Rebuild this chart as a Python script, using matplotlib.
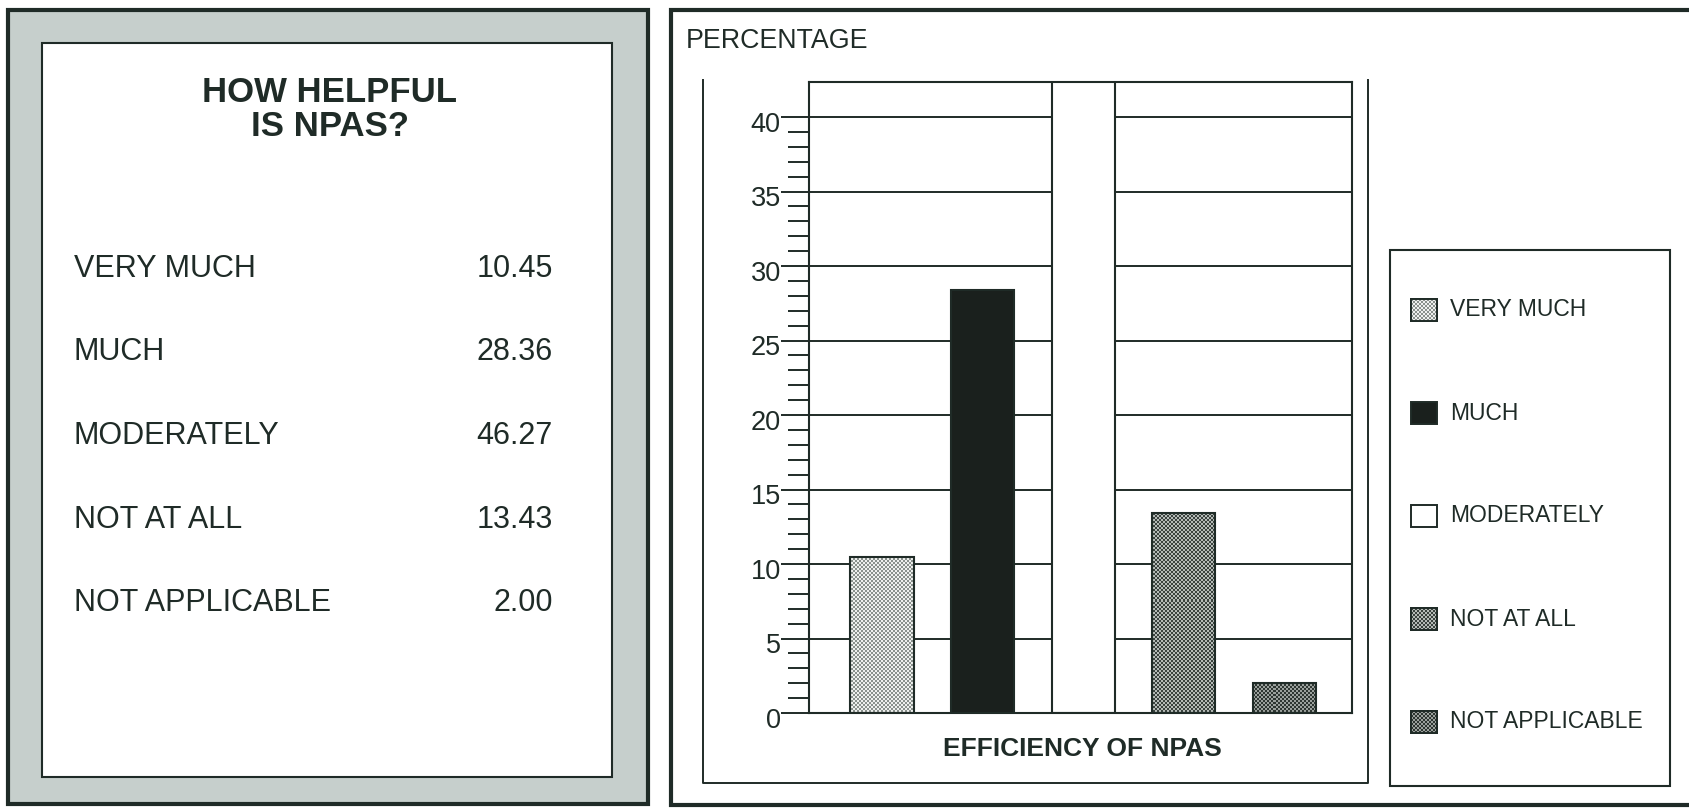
import numpy as np
import matplotlib
matplotlib.use("Agg")
import matplotlib.pyplot as plt
from matplotlib.patches import Rectangle
from matplotlib.ticker import FixedLocator
from matplotlib.transforms import ScaledTranslation

plt.rcParams['font.family'] = ['Liberation Sans', 'DejaVu Sans']

# ---- data -------------------------------------------------------------
categories = ['VERY MUCH', 'MUCH', 'MODERATELY', 'NOT AT ALL', 'NOT APPLICABLE']
values = [10.45, 28.36, 46.27, 13.43, 2.00]
major_ticks = [0, 5, 10, 15, 20, 25, 30, 35, 40]
minor_ticks = [v for v in range(0, 41) if v % 5 != 0]
title_lines = ['HOW HELPFUL', 'IS NPAS?']
x_title = 'EFFICIENCY OF NPAS'
y_title = 'PERCENTAGE'

# ---- styling ----------------------------------------------------------
INK = '#1f2b27'
PANEL_GREY = '#c6cfcc'
# (light, dark) pairs for the stippled fills; plain strings are flat colours
fills = [
    ('#eef0ee', '#8a918d'),
    '#1a201d',
    '#ffffff',
    ('#b4bab6', '#3a423e'),
    ('#9aa09c', '#2e3632'),
]

W, H, DPI = 1689, 808, 100
fig = plt.figure(figsize=(W / DPI, H / DPI), dpi=DPI, facecolor='white')


def stipple(h, w, light, dark, cell=2):
    yy, xx = np.mgrid[0:h, 0:w]
    mask = ((xx // cell) + (yy // cell)) % 2 == 0
    img = np.empty((h, w, 3))
    img[mask] = matplotlib.colors.to_rgb(dark)
    img[~mask] = matplotlib.colors.to_rgb(light)
    return img


def mean_colour(f):
    if isinstance(f, tuple):
        a = np.array(matplotlib.colors.to_rgb(f[0]))
        b = np.array(matplotlib.colors.to_rgb(f[1]))
        return tuple((a + b) / 2)
    return f


# ---- background layer in pixel coordinates ----------------------------
bg = fig.add_axes([0, 0, 1, 1], zorder=0)
bg.set_xlim(0, W)
bg.set_ylim(H, 0)
bg.axis('off')

# left table panel
bg.add_patch(Rectangle((8, 10), 640, 794, facecolor=PANEL_GREY,
                       edgecolor=INK, lw=3.0, joinstyle='miter'))
bg.add_patch(Rectangle((42, 43), 570, 734, facecolor='white',
                       edgecolor=INK, lw=1.5, joinstyle='miter'))
for i, line in enumerate(title_lines):
    bg.text(330, 92 + 35 * i, line, ha='center', va='center',
            fontsize=25, fontweight='bold', color=INK)
for i, (cat, val) in enumerate(zip(categories, values)):
    y = 269 + 83.5 * i
    bg.text(74, y, cat, ha='left', va='center', fontsize=22, color=INK)
    bg.text(553, y, f'{val:.2f}', ha='right', va='center', fontsize=22,
            color=INK)

# right chart panel frame (open on the right)
bg.plot([W + 5, 671, 671, W + 5], [10, 10, 805, 805], color=INK, lw=3.0,
        solid_joinstyle='miter')
bg.plot([703, 703, 1368, 1368], [80, 783, 783, 80], color=INK, lw=1.4)
bg.text(686, 41, y_title, ha='left', va='center', fontsize=19.3, color=INK)

# legend box
bg.add_patch(Rectangle((1390, 250), 280, 536, facecolor='white',
                       edgecolor=INK, lw=1.5))
for i, (cat, f) in enumerate(zip(categories, fills)):
    yc = 310 + 103 * i
    sx, sw, sh = 1411, 26, 22
    sy = yc - sh / 2
    sw_patch = Rectangle((sx, sy), sw, sh, facecolor=mean_colour(f),
                         edgecolor=INK, lw=1.4, zorder=2)
    bg.add_patch(sw_patch)
    if isinstance(f, tuple):
        im = bg.imshow(stipple(sh, sw, *f), extent=(sx, sx + sw, sy + sh, sy),
                       interpolation='nearest', aspect='auto', zorder=2.5)
        im.set_clip_path(sw_patch)
        bg.add_patch(Rectangle((sx, sy), sw, sh, fill=False,
                               edgecolor=INK, lw=1.4, zorder=3))
    bg.text(1450, yc, cat, ha='left', va='center', fontsize=16.5, color=INK)
bg.set_xlim(0, W)
bg.set_ylim(H, 0)

# ---- bar chart --------------------------------------------------------
ax_left, ax_right, ax_top, ax_bottom = 809, 1352, 82, 713
ax = fig.add_axes([ax_left / W, (H - ax_bottom) / H,
                   (ax_right - ax_left) / W, (ax_bottom - ax_top) / H],
                  zorder=1)
ax.set_facecolor('white')

x = np.arange(len(categories))
xlim = (-0.726, 4.672)
ylim = (0, 42.35)
bar_w = 0.63

bars = ax.bar(x, values, width=bar_w, color=[mean_colour(f) for f in fills],
              edgecolor='none', zorder=2)
ph, pw = ax_bottom - ax_top, ax_right - ax_left
for patch, f in zip(bars.patches, fills):
    if isinstance(f, tuple):
        im = ax.imshow(stipple(ph, pw, *f),
                       extent=(xlim[0], xlim[1], ylim[0], ylim[1]),
                       origin='upper', interpolation='nearest',
                       aspect='auto', zorder=2.5)
        im.set_clip_path(patch)
ax.bar(x, values, width=bar_w, fill=False, edgecolor=INK, lw=1.5, zorder=3)

ax.set_xlim(*xlim)
ax.set_ylim(*ylim)

ax.set_xticks([])
ax.yaxis.set_major_locator(FixedLocator(major_ticks))
ax.yaxis.set_minor_locator(FixedLocator(minor_ticks))
ax.set_yticklabels([str(t) for t in major_ticks])
ax.tick_params(axis='y', which='major', direction='out', length=20,
               width=1.4, color=INK, labelsize=19.5, labelcolor=INK, pad=0.3)
ax.tick_params(axis='y', which='minor', direction='out', length=15,
               width=1.4, color=INK)
shift = ScaledTranslation(0, -3.5 / 72, fig.dpi_scale_trans)
for lab in ax.get_yticklabels():
    lab.set_transform(lab.get_transform() + shift)

ax.yaxis.grid(True, which='major', color=INK, lw=1.4)
ax.set_axisbelow(True)
for sp in ax.spines.values():
    sp.set_color(INK)
    sp.set_linewidth(1.5)

ax.set_xlabel(x_title, fontsize=19, fontweight='bold', color=INK,
              va='center')
ax.xaxis.set_label_coords((1082 - ax_left) / pw, (ax_bottom - 749) / ph)

fig.savefig('out.png', dpi=DPI, facecolor='white')
